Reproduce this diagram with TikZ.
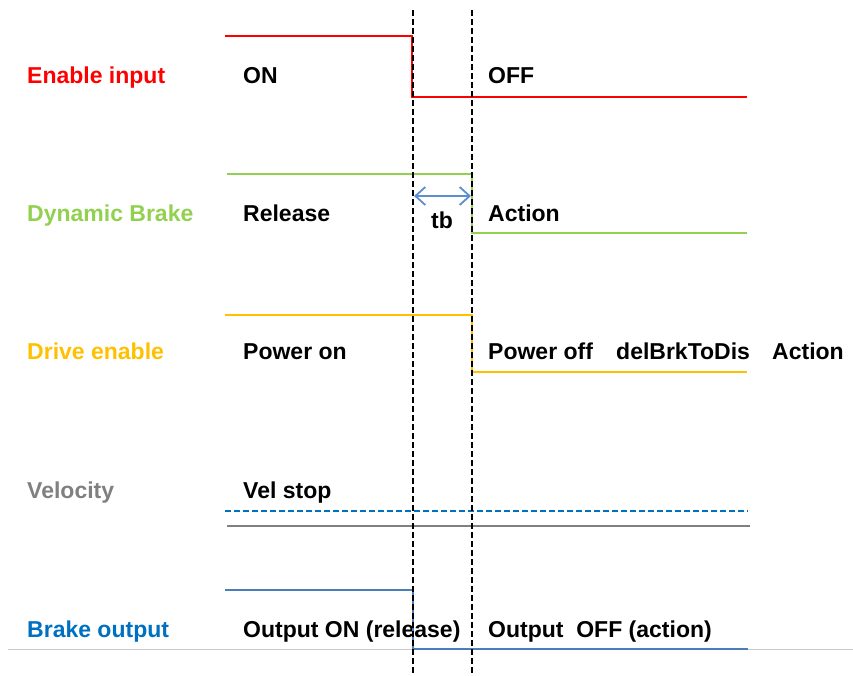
\documentclass[tikz,border=0pt]{standalone}
\usepackage{fontspec}
\setmainfont{Liberation Sans}
\usetikzlibrary{arrows.meta}
\definecolor{cred}{HTML}{FF0000}
\definecolor{cgreen}{HTML}{92D050}
\definecolor{cgold}{HTML}{FFC000}
\definecolor{cgray}{HTML}{808080}
\definecolor{cblue}{HTML}{0070C0}
\definecolor{csteel}{HTML}{4A7EBB}
\definecolor{carrow}{HTML}{5B8FD0}
\begin{document}
\begin{tikzpicture}[x=1pt,y=-1pt,
  lbl/.style={anchor=base west,inner sep=0pt,font=\fontsize{23}{27}\selectfont\bfseries},
  sig/.style={line width=2pt},
  guide/.style={black,line width=1.3pt,dash pattern=on 6pt off 3pt}]
\useasboundingbox (0,0) rectangle (853,675);
% ground line
\draw[gray!40,line width=1pt] (8,649) -- (853,649);
% Enable input
\node[lbl,text=cred] (l1) at (27,83) {Enable input};
\node[lbl] (t1a) at (243,83) {ON};
\node[lbl] (t1b) at (488,83) {OFF};
\coordinate (e1) at (225,36);
\coordinate (e2) at (412,36);
\coordinate (e3) at (412,97);
\coordinate (e4) at (747,97);
\draw[sig,cred] (e1) -- (e2) -- (e3) -- (e4);
% Dynamic brake
\node[lbl,text=cgreen] (l2) at (27,221) {Dynamic Brake};
\node[lbl] (t2a) at (243,221) {Release};
\node[lbl] (t2b) at (488,221) {Action};
\coordinate (d1) at (227,174);
\coordinate (d2) at (472,174);
\coordinate (d3) at (472,233);
\coordinate (d4) at (747,233);
\draw[sig,cgreen] (d1) -- (d2) -- (d3) -- (d4);
% Drive enable
\node[lbl,text=cgold] (l3) at (27,359) {Drive enable};
\node[lbl] (t3a) at (243,359) {Power on};
\node[lbl] (t3b) at (488,359) {Power off};
\node[lbl] (t3c) at (616,359) {delBrkToDis};
\node[lbl] (t3d) at (772,359) {Action};
\coordinate (p1) at (225,315);
\coordinate (p2) at (472,315);
\coordinate (p3) at (472,372);
\coordinate (p4) at (747,372);
\draw[sig,cgold] (p1) -- (p2) -- (p3) -- (p4);
% Velocity
\node[lbl,text=cgray] (l4) at (27,498) {Velocity};
\node[lbl] (t4a) at (243,498) {Vel stop};
\coordinate (v1) at (225,511);
\coordinate (v2) at (748,511);
\coordinate (v3) at (227,526);
\coordinate (v4) at (750,526);
\draw[cblue,line width=1.5pt,dash pattern=on 6pt off 3pt] (v1) -- (v2);
\draw[sig,cgray] (v3) -- (v4);
% Brake output
\node[lbl,text=cblue] (l5) at (27,637) {Brake output};
\node[lbl] (t5a) at (243,637) {Output ON (release)};
\node[lbl] (t5b) at (488,637) {Output\ \ OFF (action)};
\coordinate (b1) at (225,590);
\coordinate (b2) at (413,590);
\coordinate (b3) at (413,649);
\coordinate (b4) at (748,649);
\draw[sig,csteel] (b1) -- (b2) -- (b3) -- (b4);
% guides
\coordinate (g1t) at (413,10);
\coordinate (g1b) at (413,675);
\coordinate (g2t) at (472,10);
\coordinate (g2b) at (472,675);
\draw[guide] (g1t) -- (g1b);
\draw[guide] (g2t) -- (g2b);
% tb
\coordinate (tbl) at (414,196);
\coordinate (tbr) at (471,196);
\draw[carrow,line width=1.8pt,{Straight Barb[length=10pt,width=18pt]}-{Straight Barb[length=10pt,width=18pt]}] (tbl) -- (tbr);
\node[lbl] (tb) at (431,228) {tb};
\end{tikzpicture}
\end{document}
